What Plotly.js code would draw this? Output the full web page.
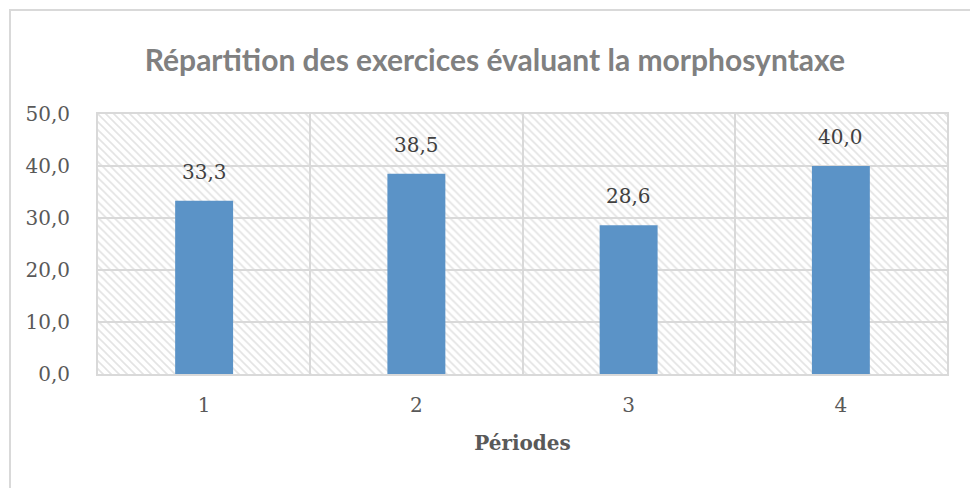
<!DOCTYPE html>
<html><head><meta charset="utf-8">
<script src="https://cdn.plot.ly/plotly-3.0.1.min.js"></script>
<style>
html,body{margin:0;padding:0;background:#fff;overflow:hidden;}
#frame{position:absolute;left:9px;top:9px;width:980px;height:500px;border-left:2px solid #d9d9d9;border-top:2px solid #d9d9d9;}
#chart{position:absolute;left:2px;top:2px;width:960px;height:478px;}
</style></head>
<body><div id="frame"><div id="chart"></div></div>
<script>
const categories = [1, 2, 3, 4];
const tickLabels = ['1', '2', '3', '4'];
const values = [33.3, 38.5, 28.6, 40.0];
const yMax = 50;

const fmt = v => v.toFixed(1).replace('.', ',');

const hatchSvg = "<svg xmlns='http://www.w3.org/2000/svg' width='850' height='261'>" +
  "<defs><pattern id='p' width='8' height='8' patternUnits='userSpaceOnUse'>" +
  "<path d='M-2,-2 L10,10 M-2,6 L2,10 M6,-2 L10,2' stroke='#e3e3e3' stroke-width='1.6'/>" +
  "</pattern></defs><rect width='100%' height='100%' fill='url(#p)'/></svg>";
const hatchUri = 'data:image/svg+xml;charset=utf-8,' + encodeURIComponent(hatchSvg);

const bars = {
  type: 'bar', x: categories, y: values, width: 0.273, showlegend: false,
  marker: { color: '#5b93c7', line: { width: 0 } }
};

const annotations = categories.map((c, i) => ({
  x: c, y: values[i], text: fmt(values[i]), showarrow: false,
  yanchor: 'bottom', yshift: 15,
  font: { family: 'DejaVu Serif', size: 20, color: '#404040' }
}));

const layout = {
  width: 960, height: 478,
  margin: { l: 85, r: 26, t: 101, b: 117 },
  paper_bgcolor: '#ffffff', plot_bgcolor: '#ffffff',
  separators: ', ',
  title: { text: 'Répartition des exercices évaluant la morphosyntaxe',
    font: { family: 'Lato', size: 30, color: '#808080', weight: 700 },
    x: 0.502, xanchor: 'center', y: 0.9, yanchor: 'middle' },
  images: [{ source: hatchUri, xref: 'x', yref: 'y', x: 0.5, y: yMax,
    sizex: categories.length, sizey: yMax, xanchor: 'left', yanchor: 'top',
    sizing: 'stretch', layer: 'below' }],
  xaxis: { range: [0.5, 4.5], tickvals: categories, ticktext: tickLabels,
    showgrid: false, zeroline: false, showline: true, mirror: true,
    linecolor: '#d9d9d9', linewidth: 2, ticks: '', ticklen: 0,
    ticklabelstandoff: 12,
    tickfont: { family: 'DejaVu Serif', size: 20, color: '#595959' },
    minor: { tickvals: [1.5, 2.5, 3.5], showgrid: true, gridcolor: '#d9d9d9', gridwidth: 2, ticks: '' },
    title: { text: 'Périodes', standoff: 20,
      font: { family: 'DejaVu Serif', size: 20, color: '#595959', weight: 700 } } },
  yaxis: { range: [0, yMax], dtick: 10, tickformat: '.1f',
    showgrid: true, gridcolor: '#d9d9d9', gridwidth: 2, zeroline: false,
    showline: true, mirror: true, linecolor: '#d9d9d9', linewidth: 2, ticks: '',
    ticklabelstandoff: 22,
    tickfont: { family: 'DejaVu Serif', size: 20, color: '#595959' } },
  annotations: annotations
};

Plotly.newPlot('chart', [bars], layout, { displayModeBar: false, staticPlot: true });
</script></body></html>
